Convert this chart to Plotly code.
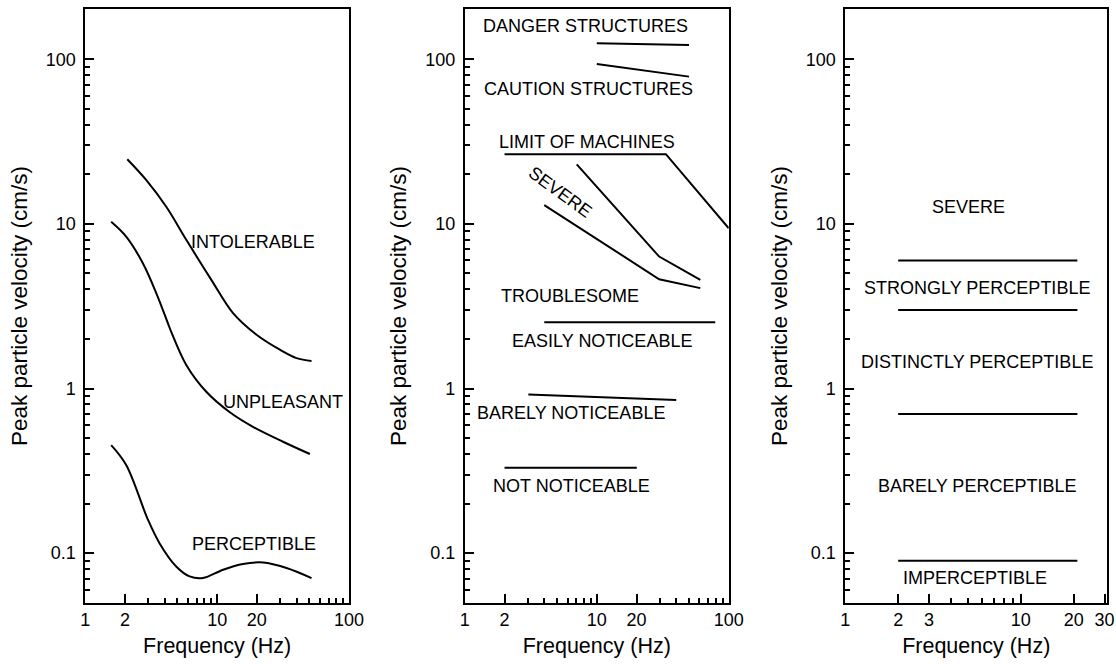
import math
import plotly.graph_objects as go

# ---------------- Panel 1 data ----------------
intolerable_f = [2.08, 2.89, 4.11, 5.83, 9.03, 13.2, 19.9, 29.9, 40, 52]
intolerable_v = [24.7, 18.5, 12.7, 8.0, 4.57, 2.87, 2.12, 1.72, 1.53, 1.47]
unpleasant_f = [1.57, 2.04, 2.73, 3.45, 4.23, 4.48, 5.83, 8.27, 12.4, 18.7, 31.6, 50.5]
unpleasant_v = [10.3, 8.37, 5.77, 3.8, 2.49, 2.21, 1.39, 0.955, 0.72, 0.585, 0.475, 0.40]
perceptible_f = [1.57, 2.04, 2.98, 3.65, 4.89, 6.18, 7.80, 11.1, 15.7, 22.3, 33.6, 52]
perceptible_v = [0.453, 0.343, 0.16, 0.115, 0.083, 0.0722, 0.0706, 0.0793, 0.0859, 0.0878, 0.0813, 0.0706]
p1_labels = ["INTOLERABLE", "UNPLEASANT", "PERCEPTIBLE"]
p1_label_f = [18.7, 31.6, 19.0]
p1_label_v = [7.8, 0.83, 0.113]

# ---------------- Panel 2 data ----------------
danger_f = [10, 50]
danger_v = [125, 122]
caution_f = [10, 50]
caution_v = [93.6, 78.4]
machines_f = [2.0, 33.4, 100]
machines_v = [26.5, 26.5, 9.4]
severe_upper_f = [7.05, 29.7, 60.9]
severe_upper_v = [23.0, 6.33, 4.57]
severe_lower_f = [4.0, 29.7, 60.9]
severe_lower_v = [13.0, 4.61, 4.07]
easily_f = [4.0, 79]
easily_v = [2.53, 2.53]
barely_f = [3.03, 40]
barely_v = [0.92, 0.851]
notnot_f = [2.0, 20.1]
notnot_v = [0.33, 0.33]
p2_labels = ["DANGER STRUCTURES", "CAUTION STRUCTURES", "LIMIT OF MACHINES",
             "TROUBLESOME", "EASILY NOTICEABLE", "BARELY NOTICEABLE", "NOT NOTICEABLE"]
p2_label_f = [8.15, 8.65, 8.4, 6.27, 10.9, 6.38, 6.46]
p2_label_v = [159, 65.8, 31.6, 3.66, 1.94, 0.705, 0.257]
severe2_label = "SEVERE"
severe2_f = 5.27
severe2_v = 15.7

# ---------------- Panel 3 data ----------------
p3_line_f = [2, 21]
p3_line_levels = [6.0, 3.0, 0.7, 0.09]
p3_labels = ["SEVERE", "STRONGLY PERCEPTIBLE", "DISTINCTLY PERCEPTIBLE",
             "BARELY PERCEPTIBLE", "IMPERCEPTIBLE"]
p3_label_f = [5.04, 5.62, 5.62, 5.62, 5.45]
p3_label_v = [12.6, 4.07, 1.44, 0.255, 0.0702]

# ---------------- Axis ticks ----------------
y_tickvals = [0.1, 1, 10, 100]
y_ticktext = ["0.1", "1", "10", "100"]
y_minor = [0.06, 0.07, 0.08, 0.09] + [k / 10 for k in range(2, 10)] + \
          list(range(2, 10)) + [k * 10 for k in range(2, 10)]
x12_tickvals = [1, 2, 10, 20, 100]
x12_ticktext = ["1", "2", "10", "20", "100"]
x12_minor = [3, 4, 5, 6, 7, 8, 9, 30, 40, 50, 60, 70, 80, 90]
x3_tickvals = [1, 2, 3, 10, 20, 30]
x3_ticktext = ["1", "2", "3", "10", "20", "30"]
x3_minor = [4, 5, 6, 7, 8, 9]

FONT = "Liberation Sans, Arial, Helvetica, sans-serif"

fig = go.Figure()


def add_line(f, v, xa, ya, shape="linear", width=2, opacity=1.0):
    fig.add_trace(go.Scatter(x=f, y=v, mode="lines", opacity=opacity,
                             line=dict(color="black", width=width, shape=shape, smoothing=1.0),
                             xaxis=xa, yaxis=ya,
                             showlegend=False, hoverinfo="skip"))


# panel 1
add_line(intolerable_f, intolerable_v, "x", "y", "spline")
add_line(unpleasant_f, unpleasant_v, "x", "y", "spline")
add_line(perceptible_f, perceptible_v, "x", "y", "spline")
# panel 2
for f, v in [(danger_f, danger_v), (caution_f, caution_v), (machines_f, machines_v),
             (severe_upper_f, severe_upper_v), (severe_lower_f, severe_lower_v),
             (easily_f, easily_v), (barely_f, barely_v), (notnot_f, notnot_v)]:
    add_line(f, v, "x2", "y2")
# panel 3
for lv in p3_line_levels:
    add_line(p3_line_f, [lv, lv], "x3", "y3")

# transparent copies that carry the minor-tick overlay axes
carriers = [(notnot_f, notnot_v), (notnot_f, notnot_v), (p3_line_f, [p3_line_levels[2]] * 2)]
for i, (f, v) in enumerate(carriers):
    base = "" if i == 0 else str(i + 1)
    add_line(f, v, "x%d" % (i + 4), "y" + base, width=0.1, opacity=0)
    add_line(f, v, "x" + base, "y%d" % (i + 4), width=0.1, opacity=0)

annotations = []


def add_text(txt, f, v, ax, angle=0):
    annotations.append(dict(text=txt, x=math.log10(f), y=math.log10(v),
                            xref="x" + ax, yref="y" + ax, showarrow=False,
                            textangle=angle,
                            font=dict(family=FONT, size=18, color="black"),
                            xanchor="center", yanchor="middle"))


for t, f, v in zip(p1_labels, p1_label_f, p1_label_v):
    add_text(t, f, v, "")
for t, f, v in zip(p2_labels, p2_label_f, p2_label_v):
    add_text(t, f, v, "2")
add_text(severe2_label, severe2_f, severe2_v, "2", angle=36)
for t, f, v in zip(p3_labels, p3_label_f, p3_label_v):
    add_text(t, f, v, "3")

y_dom = [0.0923, 0.986]
x_doms = [[0.0765, 0.3127], [0.4165, 0.653], [0.7575, 0.992]]
x_ranges = [[0, 2], [0, 2], [0, math.log10(31)]]
y_range = [math.log10(0.05), math.log10(201)]
TICKFONT = dict(family=FONT, size=18, color="black")


def xaxis(i):
    tv = x3_tickvals if i == 2 else x12_tickvals
    tt = x3_ticktext if i == 2 else x12_ticktext
    return dict(type="log", domain=x_doms[i], range=x_ranges[i],
                anchor="y" if i == 0 else "y" + str(i + 1),
                tickmode="array", tickvals=tv, ticktext=tt,
                ticks="inside", ticklen=9, tickwidth=2, tickcolor="black",
                showline=True, linecolor="black", linewidth=2, mirror=True,
                showgrid=False, zeroline=False,
                tickfont=TICKFONT,
                title=dict(text="Frequency (Hz)", standoff=9,
                           font=dict(family=FONT, size=21.5, color="black")),
                automargin=False)


def yaxis(i):
    return dict(type="log", domain=y_dom, range=y_range,
                anchor="x" if i == 0 else "x" + str(i + 1),
                tickmode="array", tickvals=y_tickvals, ticktext=y_ticktext,
                ticks="inside", ticklen=9, tickwidth=2, tickcolor="black",
                showline=True, linecolor="black", linewidth=2, mirror=True,
                showgrid=False, zeroline=False,
                tickfont=TICKFONT, ticklabelstandoff=4,
                title=dict(text="Peak particle velocity (cm/s)", standoff=12,
                           font=dict(family=FONT, size=22.5, color="black")),
                automargin=False)


def xminor(i):
    mn = x3_minor if i == 2 else x12_minor
    base = "x" if i == 0 else "x" + str(i + 1)
    return dict(type="log", domain=x_doms[i], range=x_ranges[i],
                overlaying=base, anchor="y" if i == 0 else "y" + str(i + 1),
                side="bottom",
                tickmode="array", tickvals=mn, ticktext=[""] * len(mn),
                showticklabels=False,
                ticks="inside", ticklen=5, tickwidth=2, tickcolor="black",
                showline=False, showgrid=False, zeroline=False, automargin=False)


def yminor(i):
    base = "y" if i == 0 else "y" + str(i + 1)
    return dict(type="log", domain=y_dom, range=y_range,
                overlaying=base, anchor="x" if i == 0 else "x" + str(i + 1),
                side="left",
                tickmode="array", tickvals=y_minor, ticktext=[""] * len(y_minor),
                showticklabels=False,
                ticks="inside", ticklen=5, tickwidth=2, tickcolor="black",
                showline=False, showgrid=False, zeroline=False, automargin=False)


fig.update_layout(
    width=1116, height=664,
    margin=dict(l=0, r=0, t=0, b=0),
    paper_bgcolor="white", plot_bgcolor="white",
    showlegend=False,
    xaxis=xaxis(0), xaxis2=xaxis(1), xaxis3=xaxis(2),
    yaxis=yaxis(0), yaxis2=yaxis(1), yaxis3=yaxis(2),
    xaxis4=xminor(0), xaxis5=xminor(1), xaxis6=xminor(2),
    yaxis4=yminor(0), yaxis5=yminor(1), yaxis6=yminor(2),
    annotations=annotations,
)

fig.write_html("out.html")
